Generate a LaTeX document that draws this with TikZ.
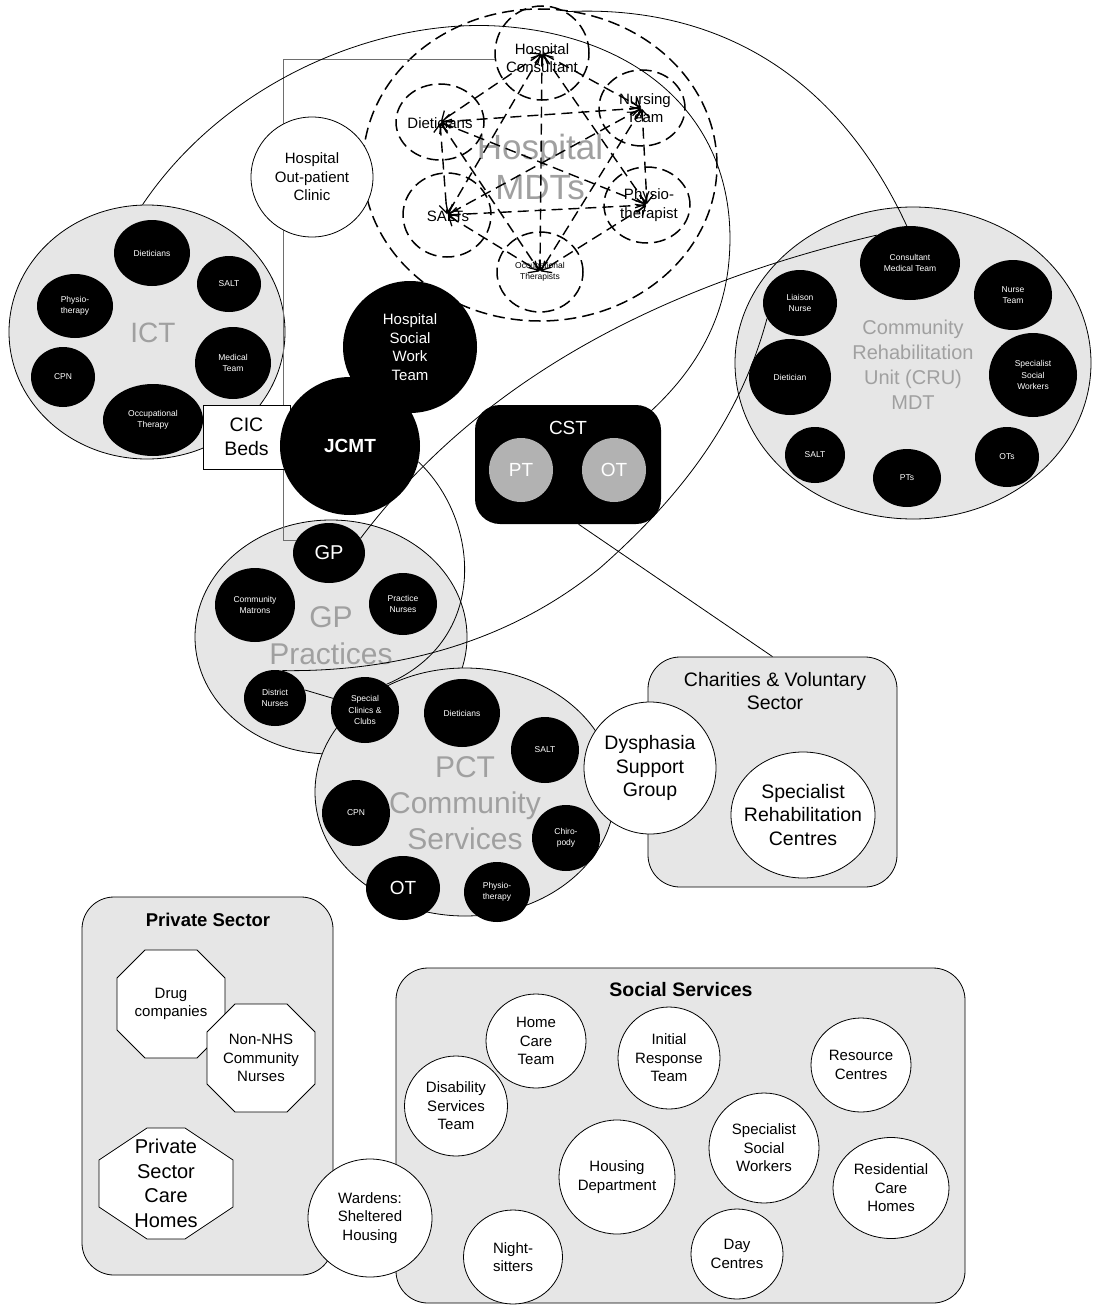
\documentclass[tikz,border=0pt]{standalone}
\usepackage{fontspec}
\setmainfont{Liberation Sans}
\usetikzlibrary{shapes.geometric,arrows.meta}

\definecolor{panel}{RGB}{230,230,230}
\definecolor{lblgray}{RGB}{160,160,160}
\definecolor{ptgray}{RGB}{178,178,178}
\definecolor{ortholine}{RGB}{110,110,110}

\pgfdeclarelayer{shade}
\pgfdeclarelayer{labels}
\pgfdeclarelayer{links}
\pgfsetlayers{shade,labels,links,main}

\newcommand\fTiny{\fontsize{8.5}{11.5}\selectfont}
\newcommand\fMed{\fontsize{15}{18.5}\selectfont}
\newcommand\fBig{\fontsize{19.5}{23.5}\selectfont}

\begin{document}
\begin{tikzpicture}[x=1pt,y=-1pt,
  every node/.style={inner sep=0pt, align=center},
  sz/.style 2 args={minimum width=#1pt, minimum height=#2pt},
  group/.style={ellipse, draw, fill=panel, line width=0.8pt},
  panelbox/.style={rectangle, rounded corners=32pt, draw, fill=panel, line width=0.8pt},
  blk/.style={ellipse, fill=black, text=white, font=\fTiny},
  wht/.style={ellipse, draw, fill=white, line width=0.8pt, font=\fMed},
  ghost/.style={text=lblgray},
  mdtring/.style={ellipse, draw, dash pattern=on 12pt off 6pt, line width=1.5pt},
  mdtlink/.style={dash pattern=on 11pt off 6pt, line width=1.4pt, <->,
    >={Straight Barb[length=8pt,width=14pt,line width=1.3pt]}, shorten <=1pt, shorten >=1pt},
  link/.style={line width=0.8pt},
  ortho/.style={line width=1pt, draw=ortholine},
  octa/.style={draw, fill=white, line width=0.8pt}]

\path[use as bounding box] (0,0) rectangle (1093,1306);

% ---------- shaded containers ----------
\begin{pgfonlayer}{shade}
  \fill[white] (0,0) rectangle (1093,1306);
  \node[group, sz={276}{254}] (ict) at (147,332) {};
  \node[group, sz={356}{312}] (cru) at (913,363) {};
  \node[group, sz={272}{234}] (gpp) at (331,637) {};
  \node[group, sz={300}{248}] (pct) at (465,792) {};
  \node[panelbox, minimum width=249pt, minimum height=230pt] (chr) at (772.5,772) {};
  \node[panelbox, minimum width=251pt, minimum height=378pt] (prv) at (207.5,1086) {};
  \node[panelbox, minimum width=569pt, minimum height=335pt] (soc) at (680.5,1135.5) {};
\end{pgfonlayer}

% ---------- grey group captions ----------
\begin{pgfonlayer}{labels}
  \node[ghost, font=\fontsize{28}{32}\selectfont] (ictlbl) at (153,333) {ICT};
  \node[ghost, font=\fontsize{20}{25}\selectfont] (crulbl) at (913,365) {Community\\Rehabilitation\\Unit (CRU)\\MDT};
  \node[ghost, font=\fontsize{30}{37}\selectfont] (gplbl) at (331,636) {GP\\Practices};
  \node[ghost, font=\fontsize{30}{36}\selectfont] (pctlbl) at (465,803) {PCT\\Community\\Services};
  \node[ghost, font=\fontsize{35}{40}\selectfont] (mdtlbl) at (540,167) {Hospital\\MDTs};
\end{pgfonlayer}

% ---------- ICT ----------
\node[blk, sz={76}{66}] (id) at (152,253) {Dieticians};
\node[blk, sz={64}{56}] (isl) at (229,284) {SALT};
\node[blk, sz={76}{64}] (iph) at (75,306) {Physio-\\therapy};
\node[blk, sz={76}{72}] (imd) at (233,363) {Medical\\Team};
\node[blk, sz={64}{60}] (icp) at (63,377) {CPN};
\node[blk, sz={100}{72}] (iot) at (153,420) {Occupational\\Therapy};
\node[draw, fill=white, line width=0.8pt, minimum width=87pt, minimum height=64pt,
      font=\fontsize{19.5}{24}\selectfont] (cic) at (246.5,437) {CIC\\Beds};

% ---------- hospital ----------
\node[wht, sz={122}{120}] (opc) at (312,177) {Hospital\\Out-patient\\Clinic};
\node[ellipse, fill=black, text=white, font=\fMed, sz={134}{132}] (hsw) at (410,347) {Hospital\\Social\\Work\\Team};
\node[ellipse, fill=black, text=white, font=\bfseries\fontsize{19}{22}\selectfont, sz={140}{138}] (jcmt) at (350,446) {JCMT};

\node[font=\fMed] (hct) at (542,58) {Hospital\\Consultant};
\node[font=\fMed] (hdt) at (440,123) {Dieticians};
\node[font=\fMed] (hnt) at (645,108) {Nursing\\Team};
\node[font=\fMed] (hst) at (448,216) {SALTs};
\node[font=\fMed] (hpt) at (649,205) {Physio-\\therapist};
\node[font=\fTiny] (hot) at (540,272) {Occupational\\Therapists};

% ---------- CST ----------
\node[rectangle, rounded corners=25pt, fill=black, minimum width=186pt, minimum height=119pt] (cst) at (568,464.5) {};
\node[text=white, font=\fontsize{19}{22}\selectfont] (cstt) at (568,428) {CST};
\node[ellipse, fill=ptgray, text=white, font=\fontsize{19}{22}\selectfont, sz={64}{64}] (cstpt) at (521,470) {PT};
\node[ellipse, fill=ptgray, text=white, font=\fontsize{19}{22}\selectfont, sz={64}{64}] (cstot) at (614,470) {OT};

% ---------- CRU ----------
\node[blk, sz={100}{74}] (cmt) at (910,263) {Consultant\\Medical Team};
\node[blk, sz={78}{70}] (cnt) at (1013,295) {Nurse\\Team};
\node[blk, sz={74}{66}] (ln) at (800,303) {Liaison\\Nurse};
\node[blk, sz={82}{76}] (cdi) at (790,377) {Dietician};
\node[blk, sz={88}{84}] (css) at (1033,375) {Specialist\\Social\\Workers};
\node[blk, sz={60}{56}] (csl) at (815,455) {SALT};
\node[blk, sz={68}{58}] (cpt) at (907,478) {PTs};
\node[blk, sz={64}{60}] (cot) at (1007,457) {OTs};

% ---------- GP practices ----------
\node[blk, sz={72}{60}, font=\fontsize{20}{22}\selectfont] (gp) at (329,553) {GP};
\node[blk, sz={80}{74}] (gcm) at (255,605) {Community\\Matrons};
\node[blk, sz={68}{62}] (gpn) at (403,604) {Practice\\Nurses};
\node[blk, sz={62}{56}] (dn) at (275,698) {District\\Nurses};
\node[blk, sz={68}{66}] (sc) at (365,710) {Special\\Clinics \&\\Clubs};

% ---------- PCT community services ----------
\node[blk, sz={76}{68}] (pdi) at (462,713) {Dieticians};
\node[blk, sz={68}{66}] (psl) at (545,750) {SALT};
\node[blk, sz={68}{66}] (pcp) at (356,813) {CPN};
\node[blk, sz={68}{66}] (pch) at (566,838) {Chiro-\\pody};
\node[blk, sz={74}{64}, font=\fontsize{19}{22}\selectfont] (pot) at (403,888) {OT};
\node[blk, sz={66}{60}] (pph) at (497,892) {Physio-\\therapy};

% ---------- charities ----------
\node[font=\fBig] (chrt) at (775,691) {Charities \& Voluntary\\Sector};
\node[wht, sz={132}{132}, font=\fBig] (dsg) at (650,768) {Dysphasia\\Support\\Group};
\node[wht, sz={144}{126}] (src) at (803,815) {};
\node[font=\fBig] (srct) at (803,815) {Specialist\\Rehabilitation\\Centres};

% ---------- private sector ----------
\node[font=\bfseries\fontsize{18.5}{22}\selectfont] (prvt) at (208,920) {Private Sector};
\coordinate (drugc) at (171,1004);
\draw[octa] ([shift={(-26,-54)}]drugc) -- ++(52,0) -- ++(28,28) -- ++(0,52) -- ++(-28,28)
  -- ++(-52,0) -- ++(-28,-28) -- ++(0,-52) -- cycle;
\node[font=\fMed] (drug) at (drugc) {Drug\\companies};
\coordinate (nhsc) at (261,1058);
\draw[octa] ([shift={(-26,-54)}]nhsc) -- ++(52,0) -- ++(28,28) -- ++(0,52) -- ++(-28,28)
  -- ++(-52,0) -- ++(-28,-28) -- ++(0,-52) -- cycle;
\node[font=\fMed] (nhs) at (nhsc) {Non-NHS\\Community\\Nurses};
\coordinate (carec) at (166,1183.5);
\draw[octa] ([shift={(-19,-55.5)}]carec) -- ++(38,0) -- ++(48,32) -- ++(0,47) -- ++(-48,32)
  -- ++(-38,0) -- ++(-48,-32) -- ++(0,-47) -- cycle;
\node[font=\fontsize{20}{24.5}\selectfont] (care) at (carec) {Private\\Sector\\Care\\Homes};

% ---------- social services ----------
\node[font=\bfseries\fontsize{19.5}{22}\selectfont] (soct) at (681,990) {Social Services};
\node[wht, sz={100}{94}] (shc) at (536,1041) {Home\\Care\\Team};
\node[wht, sz={102}{102}] (sir) at (669,1058) {Initial\\Response\\Team};
\node[wht, sz={100}{94}] (srs) at (861,1065) {Resource\\Centres};
\node[wht, sz={103}{100}] (sds) at (456,1106) {Disability\\Services\\Team};
\node[wht, sz={110}{110}] (sss) at (764,1148) {Specialist\\Social\\Workers};
\node[wht, sz={116}{114}] (shd) at (617,1177) {Housing\\Department};
\node[wht, sz={116}{101}] (srh) at (891,1188) {Residential\\Care\\Homes};
\node[wht, sz={99}{94}] (sns) at (513,1257) {Night-\\sitters};
\node[wht, sz={92}{90}] (sdc) at (737,1254) {Day\\Centres};
\node[wht, sz={124}{118}] (wsh) at (370,1218) {Wardens:\\Sheltered\\Housing};

% ---------- connectors ----------
\begin{pgfonlayer}{links}
  % hospital multidisciplinary teams
  \node[mdtring, sz={354}{312}] (mdt) at (540,165) {};
  \node[mdtring, sz={94}{94}] (hc) at (542,53) {};
  \node[mdtring, sz={88}{76}] (hd) at (440,122) {};
  \node[mdtring, sz={86}{76}] (hn) at (642,108) {};
  \node[mdtring, sz={88}{84}] (hs) at (447,215) {};
  \node[mdtring, sz={86}{76}] (hp) at (647,205) {};
  \node[mdtring, sz={86}{80}] (ho) at (540,272) {};
  \foreach \a/\b in {hc/hd,hc/hn,hc/hs,hc/hp,hc/ho,hd/hn,hd/hs,hd/hp,hd/ho,
                     hn/hs,hn/hp,hn/ho,hs/hp,hs/ho,hp/ho}
    \draw[mdtlink] (\a.center) -- (\b.center);

  % grey route from the consultant down to the GP
  \coordinate (obend) at (283,59);
  \draw[ortho] (hc.188) -- (hc.188 -| obend) -- (obend |- gp.160) -- (gp.160);

  % long links
  \draw[link] (ict.92) .. controls (230,75) and (390,15) .. (510,27)
     .. controls (650,40) and (745,130) .. (728,270)
     .. controls (720,330) and (690,375) .. ([xshift=-11pt,yshift=-7pt]cst.north east);
  \draw[link] (hc.60) .. controls (700,5) and (830,60) .. (cmt.95);
  \draw[link] (gp.25) .. controls (450,420) and (600,300) .. (cmt.140);
  \draw[link] (jcmt.-13) .. controls (480,520) and (490,640) .. (sc.50);
  \draw[link] (ln.205) .. controls (745,400) and (700,480) .. (600,568)
     .. controls (500,650) and (380,672) .. (dn.75);
  \draw[link] (cst.-80) -- (chr.north);
  \draw[link] (dn.15) -- (sc.160);
\end{pgfonlayer}

\end{tikzpicture}
\end{document}
